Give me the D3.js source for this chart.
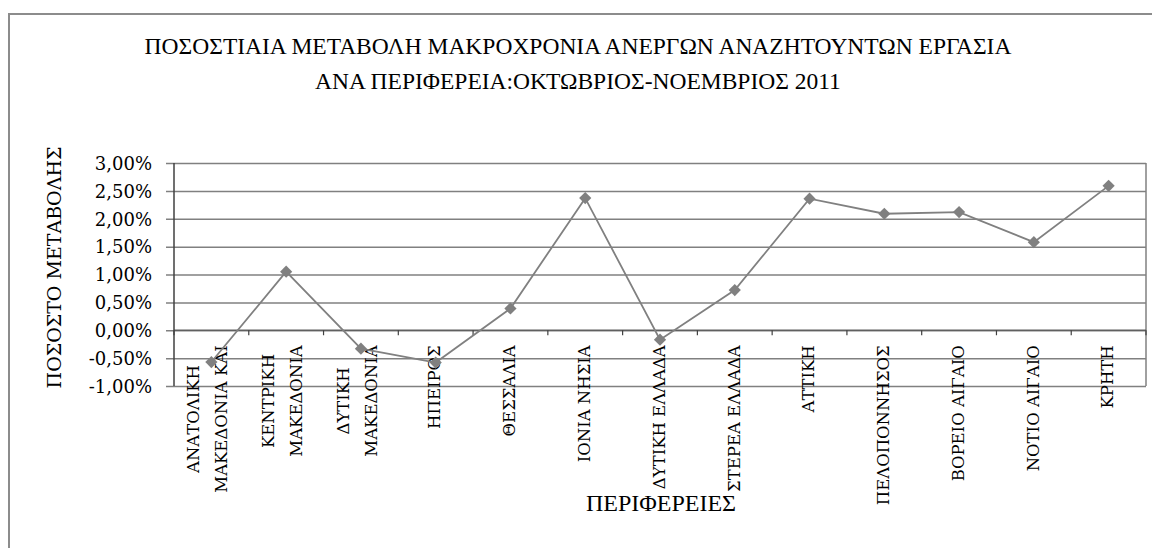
<!DOCTYPE html>
<html>
<head>
  <meta charset="utf-8">
  <script src="https://d3js.org/d3.v7.min.js"></script>
  <style>
    body { margin: 0; background: #fff; }
    svg { display: block; font-family: "DejaVu Serif", serif; }
  </style>
</head>
<body>
<div id="chart"></div>
<script>
  // category labels (line breaks as in the original)
  const regions = [
    ["ΑΝΑΤΟΛΙΚΗ", "ΜΑΚΕΔΟΝΙΑ ΚΑΙ"],
    ["ΚΕΝΤΡΙΚΗ", "ΜΑΚΕΔΟΝΙΑ"],
    ["ΔΥΤΙΚΗ", "ΜΑΚΕΔΟΝΙΑ"],
    ["ΗΠΕΙΡΟΣ"],
    ["ΘΕΣΣΑΛΙΑ"],
    ["ΙΟΝΙΑ ΝΗΣΙΑ"],
    ["ΔΥΤΙΚΗ ΕΛΛΑΔΑ"],
    ["ΣΤΕΡΕΑ ΕΛΛΑΔΑ"],
    ["ΑΤΤΙΚΗ"],
    ["ΠΕΛΟΠΟΝΝΗΣΟΣ"],
    ["ΒΟΡΕΙΟ ΑΙΓΑΙΟ"],
    ["ΝΟΤΙΟ ΑΙΓΑΙΟ"],
    ["ΚΡΗΤΗ"]
  ];
  // percentage change, in %
  const change = [-0.57, 1.05, -0.33, -0.58, 0.39, 2.37, -0.17, 0.72, 2.36, 2.09, 2.12, 1.58, 2.59];
  const yTicks = [-1, -0.5, 0, 0.5, 1, 1.5, 2, 2.5, 3];

  const titleLines = [
    "ΠΟΣΟΣΤΙΑΙΑ ΜΕΤΑΒΟΛΗ ΜΑΚΡΟΧΡΟΝΙΑ ΑΝΕΡΓΩΝ ΑΝΑΖΗΤΟΥΝΤΩΝ ΕΡΓΑΣΙΑ",
    "ΑΝΑ ΠΕΡΙΦΕΡΕΙΑ:ΟΚΤΩΒΡΙΟΣ-ΝΟΕΜΒΡΙΟΣ 2011"
  ];

  const width = 1152, height = 548;
  const margin = { top: 163, right: 6, bottom: 162, left: 174 };
  const innerWidth = width - margin.left - margin.right;
  const innerHeight = height - margin.top - margin.bottom;

  const svg = d3.select("#chart").append("svg")
    .attr("width", width)
    .attr("height", height);

  // chart frame
  svg.append("rect")
    .attr("x", 9).attr("y", 14)
    .attr("width", 1160).attr("height", 560)
    .attr("fill", "none")
    .attr("stroke", "#8c8c8c")
    .attr("stroke-width", 2);

  svg.selectAll(".title")
    .data(titleLines)
    .enter().append("text")
    .attr("class", "title")
    .attr("x", 578)
    .attr("y", (d, i) => 54 + i * 35)
    .attr("text-anchor", "middle")
    .style("font-family", "'Liberation Serif', serif")
    .style("font-size", "23.5px")
    .text(d => d);

  const g = svg.append("g")
    .attr("transform", `translate(${margin.left},${margin.top})`);

  const x = d3.scaleBand()
    .domain(d3.range(regions.length))
    .range([0, innerWidth]);

  const y = d3.scaleLinear()
    .domain([-1, 3])
    .range([innerHeight, 0]);

  const fmt = v => d3.format(".2f")(v).replace(".", ",").replace("\u2212", "-") + "%";

  // gridlines + y axis
  const yAxis = g.append("g")
    .call(d3.axisLeft(y).tickValues(yTicks).tickSize(-innerWidth).tickSizeOuter(0).tickFormat(fmt));
  yAxis.select(".domain").remove();
  yAxis.selectAll(".tick line")
    .attr("x1", -8)
    .attr("stroke", "#808080")
    .attr("stroke-width", 1.5);
  yAxis.selectAll(".tick text")
    .attr("x", -22)
    .attr("dy", "0.35em")
    .style("font-size", "18px")
    .style("font-family", "'DejaVu Serif', serif")
    .attr("fill", "#000");

  // plot border right
  g.append("line")
    .attr("x1", innerWidth).attr("x2", innerWidth)
    .attr("y1", 0).attr("y2", innerHeight)
    .attr("stroke", "#808080").attr("stroke-width", 1.5);

  // x axis at zero
  const xAxis = g.append("g")
    .attr("transform", `translate(0,${y(0)})`);
  xAxis.append("line")
    .attr("x1", 0).attr("x2", innerWidth)
    .attr("stroke", "#606060").attr("stroke-width", 1.5);
  xAxis.selectAll(".xtick")
    .data(d3.range(regions.length + 1))
    .enter().append("line")
    .attr("class", "xtick")
    .attr("x1", d => d * x.bandwidth()).attr("x2", d => d * x.bandwidth())
    .attr("y1", 0).attr("y2", 5)
    .attr("stroke", "#404040").attr("stroke-width", 1.2);

  // y axis line
  g.append("line")
    .attr("x1", 0).attr("x2", 0)
    .attr("y1", 0).attr("y2", innerHeight)
    .attr("stroke", "#404040").attr("stroke-width", 1.5);

  // category labels, rotated
  const labelTop = y(0) + 15;
  const lineH = 28;
  g.selectAll(".cat")
    .data(regions)
    .enter().append("g")
    .attr("class", "cat")
    .attr("transform", (d, i) =>
      `translate(${x(i) + x.bandwidth() / 2 - (d.length > 1 ? 4 : 1)},${labelTop}) rotate(-90)`)
    .each(function (lines) {
      const grp = d3.select(this);
      const n = lines.length;
      lines.forEach((s, k) => {
        grp.append("text")
          .attr("y", (k - (n - 1) / 2) * lineH)
          .attr("dy", "0.35em")
          .style("font-size", "16.5px")
          .text(s);
      });
      if (n === 1) {
        grp.selectAll("text").attr("text-anchor", "end");
      } else {
        // lines centred on each other, the longest one ending at the axis side
        const widths = [];
        grp.selectAll("text").each(function () { widths.push(this.getComputedTextLength()); });
        grp.selectAll("text").attr("text-anchor", "middle").attr("x", -d3.max(widths) / 2);
      }
    });

  // series line
  const line = d3.line()
    .x((d, i) => x(i) + x.bandwidth() / 2)
    .y(d => y(d));

  g.append("path")
    .datum(change)
    .attr("fill", "none")
    .attr("stroke", "#808080")
    .attr("stroke-width", 1.8)
    .attr("d", line);

  g.selectAll(".pt")
    .data(change)
    .enter().append("path")
    .attr("class", "pt")
    .attr("d", d3.symbol().type(d3.symbolDiamond2).size(95))
    .attr("transform", (d, i) => `translate(${x(i) + x.bandwidth() / 2},${y(d)})`)
    .attr("fill", "#808080");

  // axis titles
  svg.append("text")
    .attr("transform", `translate(54,${(163 + 386) / 2 - 7}) rotate(-90)`)
    .attr("text-anchor", "middle")
    .attr("dy", "0.35em")
    .style("font-size", "19px")
    .text("ΠΟΣΟΣΤΟ ΜΕΤΑΒΟΛΗΣ");

  svg.append("text")
    .attr("x", 661)
    .attr("y", 511)
    .attr("text-anchor", "middle")
    .style("font-family", "'Liberation Serif', serif")
    .style("font-size", "24px")
    .text("ΠΕΡΙΦΕΡΕΙΕΣ");
</script>
</body>
</html>
